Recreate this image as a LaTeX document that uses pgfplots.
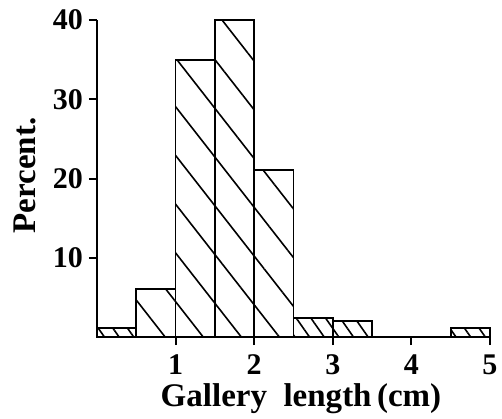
\documentclass[border=0pt]{standalone}
\usepackage{fontspec}
\setmainfont{Liberation Serif}
\usepackage{pgfplots}
\pgfplotsset{compat=1.18}
\usetikzlibrary{patterns.meta}
\begin{document}
\begin{tikzpicture}
\useasboundingbox (-48.5pt,-40.5pt) rectangle (202.5pt,168.5pt);
\begin{axis}[
 at={(0,0)}, anchor=south west,
 scale only axis, width=196.5pt, height=158.5pt,
 xmin=0, xmax=5, ymin=0, ymax=40,
 axis lines=left, axis line style={-, line width=1pt},
 xtick={1,2,3,4,5}, ytick={10,20,30,40},
 tick align=outside, major tick length=4pt,
 tick style={line width=1pt, black},
 ticklabel style={font=\fontsize{15}{17}\selectfont\bfseries},
 yticklabel style={xshift=0.5pt},
 xticklabel style={yshift=-1.5pt},
 /pgf/number format/assume math mode=true,
 xlabel={Gallery\ \ length\,(cm)}, ylabel={Percent.},
 every axis x label/.style={at={(axis description cs:0.519,-0.195)},anchor=center,font=\fontsize{16.5}{18}\selectfont\bfseries},
 every axis y label/.style={at={(axis description cs:-0.183,0.51)},anchor=center,rotate=90,font=\fontsize{16.5}{18}\selectfont\bfseries},
 ybar, bar width=0.5, bar shift=0pt,
 clip=false,
]
\addplot[draw=black, line width=0.9pt, pattern={Lines[angle=-52,distance=15pt,line width=0.8pt]}] coordinates {(0.75,6.1) (1.25,35) (1.75,40) (2.25,21.1)};
\addplot[draw=black, line width=0.9pt, pattern={Lines[angle=-55,distance=6pt,line width=0.8pt]}] coordinates {(0.25,1.1) (2.75,2.4) (3.25,2.0) (4.75,1.1)};
\end{axis}
\end{tikzpicture}
\end{document}
